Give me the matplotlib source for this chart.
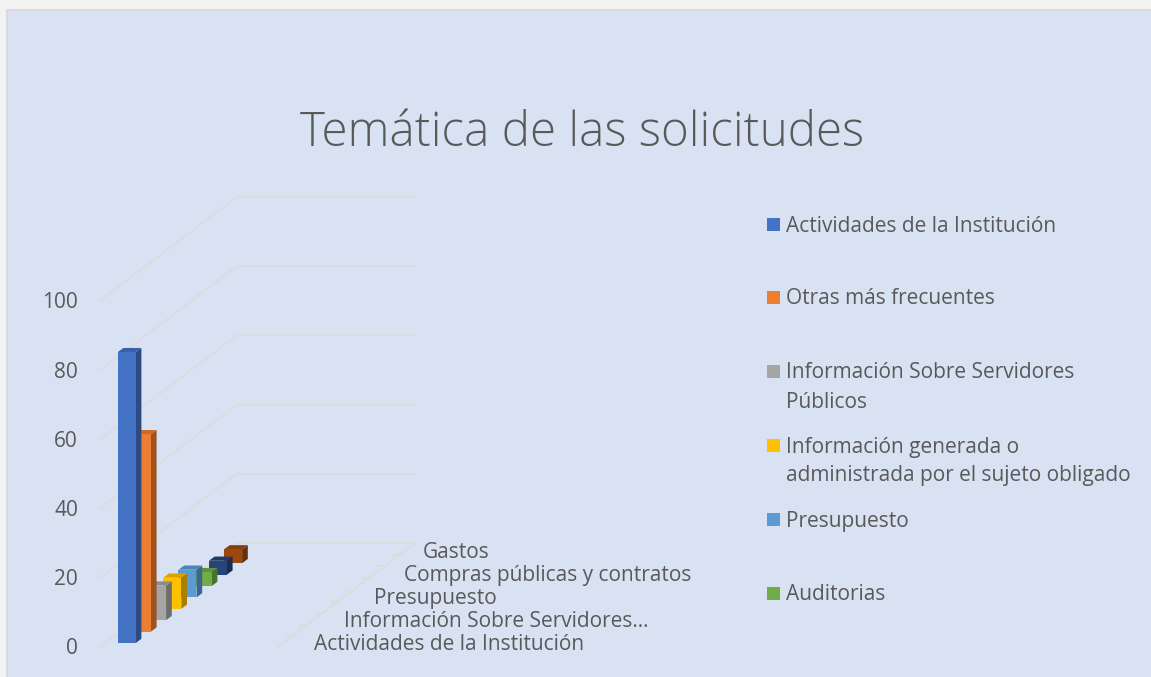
import matplotlib
matplotlib.use("Agg")
import matplotlib.pyplot as plt
from matplotlib.patches import Polygon, Rectangle
from matplotlib.colors import to_rgb

plt.rcParams['font.family'] = ['Open Sans', 'DejaVu Sans']

# data
values = [84, 57, 10, 9, 8, 4, 4, 4]
bar_colors = ['#4472C4', '#ED7D31', '#A5A5A5', '#FFC000', '#5B9BD5', '#70AD47', '#264478', '#9E480E']
value_ticks = [0, 20, 40, 60, 80, 100]
depth_labels = ['Actividades de la Institución', 'Información Sobre Servidores…', 'Presupuesto',
                'Compras públicas y contratos', 'Gastos']
legend_names = ['Actividades de la Institución', 'Otras más frecuentes',
                'Información Sobre Servidores\nPúblicos',
                'Información generada o\nadministrada por el sujeto obligado',
                'Presupuesto', 'Auditorias']
title = 'Temática de las solicitudes'

text_color = '#595959'
grid_color = '#DBDCDC'

# oblique projection, all in picture pixels
px_per_unit = 3.4625
step_x, step_y = 15.2, -11.4
bar_w = 18
bar_dx, bar_dy = 5.7, -4.2


def bar_base(i):
    return 117.7 + i * step_x, 643 + i * step_y


def darker(color, f):
    r, g, b = to_rgb(color)
    return (r * f, g * f, b * f)


fig = plt.figure(figsize=(11.51, 6.77), dpi=100, facecolor='#F3F3F4')
ax = fig.add_axes([0, 0, 1, 1])
ax.set_xlim(0, 1151)
ax.set_ylim(677, 0)
ax.axis('off')

# panel
ax.add_patch(Rectangle((7, 10), 1150, 680, facecolor='#D9E2F3', edgecolor='#DADADA', lw=1.5))

ax.text(582, 134, title, fontsize=34.2, fontweight='light', color=text_color, ha='center', va='center')

# walls and floor
front_x, front_y = 100, 647
back_x, back_y = 237, 543
right_x = 415
for v in value_ticks:
    dy = v * px_per_unit
    ax.plot([front_x, back_x, right_x], [front_y - dy, back_y - dy, back_y - dy],
            color=grid_color, lw=1.3, zorder=1)
    ax.text(78, front_y - dy + 2, str(v), fontsize=15, color=text_color, ha='right', va='center')
ax.plot([right_x, right_x - 137], [back_y, front_y], color=grid_color, lw=1.3, zorder=1)
for k in range(1, 9):
    tx = right_x - k * 137 / 8.9
    ty = back_y + k * 104 / 8.9
    ax.plot([tx - 7, tx], [ty, ty], color=grid_color, lw=1.3, zorder=1)

label_x = [314, 344, 374, 404, 423]
label_y = [644.5, 621.5, 598.5, 575.5, 552.5]
for lab, lx, ly in zip(depth_labels, label_x, label_y):
    ax.text(lx, ly, lab, fontsize=15.05, color=text_color, ha='left', va='center')

# bars, back to front so the near ones cover the far ones
for i in range(len(values) - 1, -1, -1):
    x0, y0 = bar_base(i)
    top = y0 - values[i] * px_per_unit
    x1 = x0 + bar_w
    c = bar_colors[i]
    z = 3 + (len(values) - i)
    ax.add_patch(Polygon([(x1, y0), (x1 + bar_dx, y0 + bar_dy), (x1 + bar_dx, top + bar_dy), (x1, top)],
                         facecolor=darker(c, 0.66), edgecolor='none', zorder=z))
    ax.add_patch(Polygon([(x0, top), (x1, top), (x1 + bar_dx, top + bar_dy), (x0 + bar_dx, top + bar_dy)],
                         facecolor=darker(c, 0.85), edgecolor='none', zorder=z))
    ax.add_patch(Rectangle((x0, top), bar_w, y0 - top, facecolor=c, edgecolor='none', zorder=z))

# legend
legend_y = [224, 297, 371, 445, 519, 593]
for name, c, ly in zip(legend_names, bar_colors, legend_y):
    ax.add_patch(Rectangle((767, ly - 6.5), 13, 13, facecolor=c, edgecolor='none'))
    for j, line in enumerate(name.split('\n')):
        ax.text(786, ly + 2 + j * 29, line, fontsize=15.05, color=text_color, ha='left', va='center')

fig.savefig('out.png', dpi=100, facecolor=fig.get_facecolor())
